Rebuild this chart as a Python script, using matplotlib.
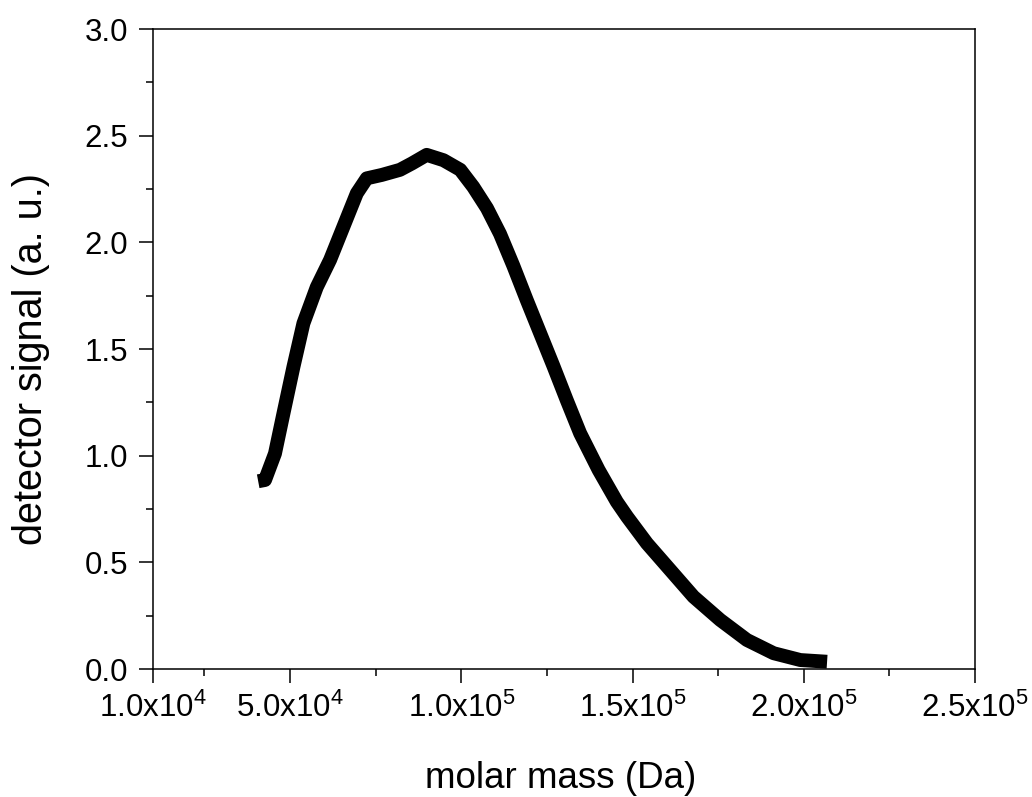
import matplotlib
matplotlib.use("Agg")
import matplotlib.pyplot as plt
from matplotlib.ticker import FixedLocator

plt.rcParams['font.family'] = ['Liberation Sans', 'DejaVu Sans']
plt.rcParams['mathtext.fontset'] = 'custom'
plt.rcParams['mathtext.rm'] = 'Liberation Sans'
plt.rcParams['mathtext.it'] = 'Liberation Sans'

# molar mass (Da) and detector signal (a.u.)
molar_mass = [4.07e4, 4.27e4, 4.56e4, 4.81e4, 5.10e4, 5.39e4, 5.78e4, 6.17e4, 6.56e4,
              6.95e4, 7.24e4, 7.68e4, 8.21e4, 8.56e4, 8.99e4, 9.48e4, 9.97e4, 1.035e5,
              1.075e5, 1.113e5, 1.152e5, 1.191e5, 1.230e5, 1.269e5, 1.308e5, 1.347e5,
              1.401e5, 1.454e5, 1.484e5, 1.542e5, 1.610e5, 1.678e5, 1.756e5, 1.834e5,
              1.912e5, 1.990e5, 2.068e5]
signal = [0.88, 0.886, 1.01, 1.20, 1.417, 1.62, 1.79, 1.918, 2.074,
          2.23, 2.30, 2.316, 2.34, 2.37, 2.41, 2.385, 2.34, 2.26,
          2.16, 2.04, 1.89, 1.73, 1.575, 1.42, 1.26, 1.105,
          0.933, 0.784, 0.714, 0.589, 0.464, 0.339, 0.23, 0.136,
          0.074, 0.042, 0.034]

x_major = [1.0e4, 5.0e4, 1.0e5, 1.5e5, 2.0e5, 2.5e5]
x_labels = [r'1.0x10$^{4}$', r'5.0x10$^{4}$', r'1.0x10$^{5}$',
            r'1.5x10$^{5}$', r'2.0x10$^{5}$', r'2.5x10$^{5}$']
x_minor = [2.5e4, 7.5e4, 1.25e5, 1.75e5, 2.25e5]
y_major = [0.0, 0.5, 1.0, 1.5, 2.0, 2.5, 3.0]
y_labels = ['0.0', '0.5', '1.0', '1.5', '2.0', '2.5', '3.0']
y_minor = [0.25, 0.75, 1.25, 1.75, 2.25, 2.75]

fig = plt.figure(figsize=(10.32, 7.97), dpi=100)
ax = fig.add_axes([0.1483, 0.1606, 0.7965, 0.8030])

ax.plot(molar_mass, signal, color='black', linewidth=10, solid_joinstyle='round',
        solid_capstyle='butt')

ax.set_xlim(1.0e4, 2.5e5)
ax.set_ylim(0, 3.0)
ax.xaxis.set_major_locator(FixedLocator(x_major))
ax.xaxis.set_minor_locator(FixedLocator(x_minor))
ax.set_xticklabels(x_labels)
ax.yaxis.set_major_locator(FixedLocator(y_major))
ax.yaxis.set_minor_locator(FixedLocator(y_minor))
ax.set_yticklabels(y_labels)

ax.tick_params(axis='both', which='major', direction='out', length=10, width=1.1,
               labelsize=22.5)
ax.tick_params(axis='x', which='major', pad=7)
ax.tick_params(axis='y', which='major', pad=8)
ax.tick_params(axis='both', which='minor', direction='out', length=5, width=1.1)
ax.tick_params(top=False, right=False, which='both')
for sp in ax.spines.values():
    sp.set_linewidth(1.1)

ax.set_xlabel('molar mass (Da)', fontsize=26.5)
ax.set_ylabel('detector signal (a. u.)', fontsize=28.5)
ax.xaxis.set_label_coords(0.496, -0.143)
ax.yaxis.set_label_coords(-0.125, 0.484)

fig.savefig('out.png', dpi=100)
